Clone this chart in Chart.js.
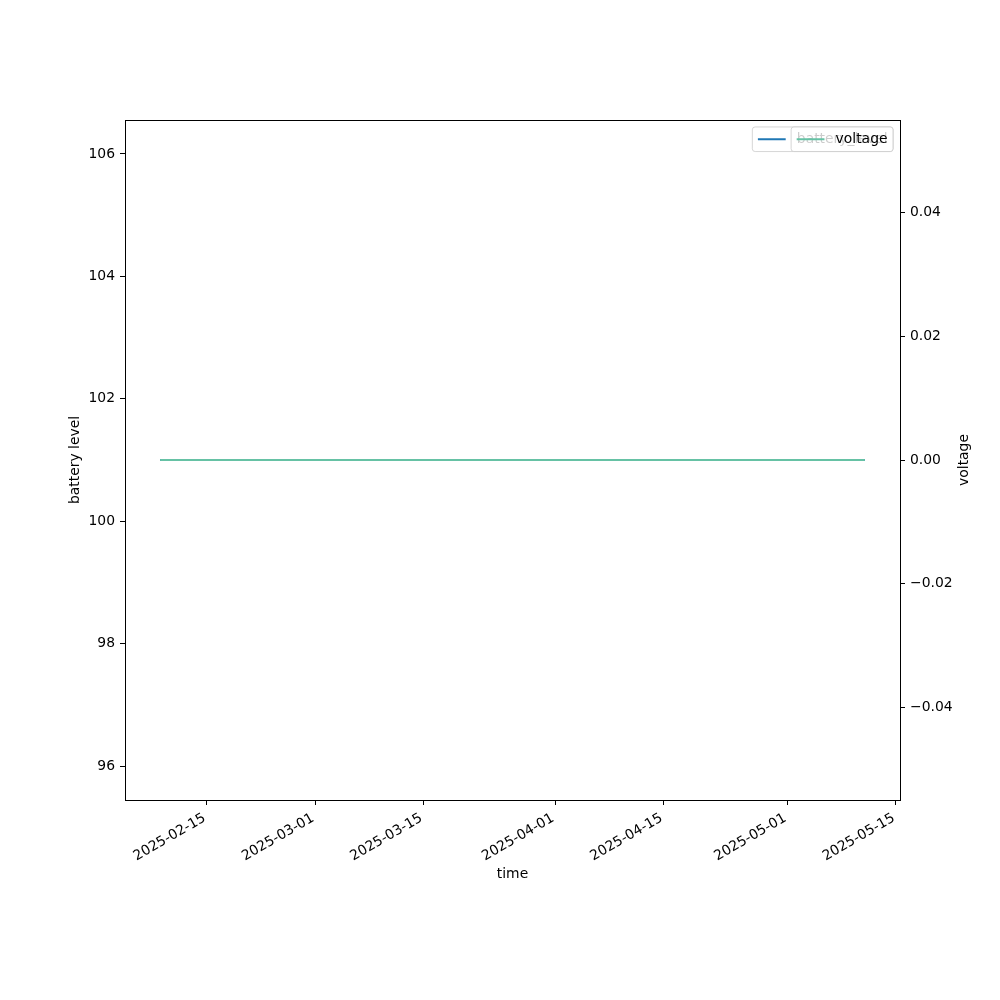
<!DOCTYPE html>
<html>
<head>
<meta charset="utf-8">
<script src="https://cdn.jsdelivr.net/npm/chart.js@4.4.1/dist/chart.umd.min.js"></script>
<style>
  html, body { margin: 0; padding: 0; background: #fff; }
  #wrap { width: 1000px; height: 1000px; }
</style>
</head>
<body>
<div id="wrap"><canvas id="c" width="1000" height="1000"></canvas></div>
<script>
// ---- data ----
const dates = ['2025-02-09','2025-02-16','2025-02-23','2025-03-02','2025-03-09','2025-03-16','2025-03-23',
               '2025-03-30','2025-04-06','2025-04-13','2025-04-20','2025-04-27','2025-05-04','2025-05-11'];
const batteryLevel = [101,101,101,101,101,101,101,101,101,101,101,101,101,101];
const voltage = [0,0,0,0,0,0,0,0,0,0,0,0,0,0];
const xTickLabels = ['2025-02-15','2025-03-01','2025-03-15','2025-04-01','2025-04-15','2025-05-01','2025-05-15'];
const yLeftTicks = [96,98,100,102,104,106];
const yRightTicks = [-0.04,-0.02,0,0.02,0.04];
const seriesNames = ['battery_level','voltage'];
const axisTitles = {x:'time', yLeft:'battery level', yRight:'voltage'};

// ---- helpers ----
const DAY = 86400000;
const toDay = s => Date.parse(s + 'T00:00:00Z') / DAY;
const xDays = dates.map(toDay);
const xTickDays = xTickLabels.map(toDay);
const dMin = Math.min(...xDays), dMax = Math.max(...xDays);
const xMargin = (dMax - dMin) * 0.05;

const FS = 13.9;
const FONT = {family: '"DejaVu Sans", sans-serif', size: FS};
const fontStr = FS + 'px "DejaVu Sans", sans-serif';

const frameAndLegend = {
  id: 'frameAndLegend',
  afterDatasetsDraw(chart) {
    const {ctx, chartArea: ca} = chart;
    ctx.save();
    ctx.strokeStyle = '#000';
    ctx.lineWidth = 1;
    ctx.strokeRect(Math.round(ca.left) + 0.5, Math.round(ca.top) + 0.5,
                   Math.round(ca.right - ca.left), Math.round(ca.bottom - ca.top));
    ctx.restore();
  },
  afterDraw(chart) {
    const {ctx, chartArea: ca} = chart;
    ctx.save();
    ctx.font = fontStr;
    const pad = 0.4 * FS, hl = 2 * FS, htp = 0.8 * FS, bap = 0.5 * FS;
    const h = 24.6;
    chart.data.datasets.forEach(ds => {
      const tw = ctx.measureText(ds.label).width;
      const w = pad + hl + htp + tw + pad;
      const right = ca.right - bap;
      const left = right - w;
      const top = ca.top + bap;
      ctx.beginPath();
      ctx.roundRect(left, top, w, h, 2.8);
      ctx.fillStyle = 'rgba(255,255,255,0.8)';
      ctx.fill();
      ctx.strokeStyle = 'rgba(204,204,204,0.8)';
      ctx.lineWidth = 1;
      ctx.stroke();
      const cy = top + h / 2;
      ctx.beginPath();
      ctx.moveTo(left + pad, cy);
      ctx.lineTo(left + pad + hl, cy);
      ctx.strokeStyle = ds.borderColor;
      ctx.lineWidth = ds.borderWidth;
      ctx.stroke();
      ctx.fillStyle = '#000';
      ctx.textAlign = 'left';
      ctx.textBaseline = 'middle';
      ctx.fillText(ds.label, left + pad + hl + htp, cy);
    });
    // right axis title (reads bottom-to-top like the reference)
    ctx.translate(964, (ca.top + ca.bottom) / 2);
    ctx.rotate(-Math.PI / 2);
    ctx.textAlign = 'center';
    ctx.textBaseline = 'middle';
    ctx.fillStyle = '#000';
    ctx.fillText(axisTitles.yRight, 0, 0);
    ctx.restore();
  }
};

const tickGrid = {display: true, drawOnChartArea: false, drawTicks: true, tickLength: 5, tickColor: '#000', tickWidth: 1};
const border = {display: true, color: '#000', width: 1};

new Chart(document.getElementById('c'), {
  type: 'line',
  data: {
    datasets: [
      {
        label: seriesNames[0],
        data: xDays.map((x, i) => ({x, y: batteryLevel[i]})),
        borderColor: '#1f77b4', borderWidth: 2, pointRadius: 0, yAxisID: 'y', order: 2, tension: 0
      },
      {
        label: seriesNames[1],
        data: xDays.map((x, i) => ({x, y: voltage[i]})),
        borderColor: '#66c2a5', borderWidth: 2, pointRadius: 0, yAxisID: 'y1', order: 1, tension: 0
      }
    ]
  },
  options: {
    responsive: false,
    devicePixelRatio: 1,
    animation: false,
    layout: {padding: {top: 120, left: 0, right: 0, bottom: 0}},
    plugins: {legend: {display: false}, tooltip: {enabled: false}},
    scales: {
      x: {
        type: 'linear', position: 'bottom',
        min: dMin - xMargin, max: dMax + xMargin,
        afterBuildTicks: s => { s.ticks = xTickDays.map(v => ({value: v})); },
        ticks: {
          callback: v => { const i = xTickDays.indexOf(v); return i >= 0 ? xTickLabels[i] : ''; },
          font: FONT, color: '#000', minRotation: 30, maxRotation: 30, autoSkip: false,
          padding: 5, labelOffset: -2
        },
        grid: tickGrid, border,
        title: {display: true, text: axisTitles.x, font: FONT, color: '#000', padding: {top: 0, bottom: 117}},
        afterFit: s => { s.height = 200; }
      },
      y: {
        type: 'linear', position: 'left',
        min: 95.445, max: 106.555,
        afterBuildTicks: s => { s.ticks = yLeftTicks.map(v => ({value: v})); },
        ticks: {callback: v => String(v), font: FONT, color: '#000', padding: 5},
        grid: tickGrid, border,
        title: {display: true, text: axisTitles.yLeft, font: FONT, color: '#000', padding: {top: 67, bottom: 0}},
        afterFit: s => { s.width = 125; }
      },
      y1: {
        type: 'linear', position: 'right',
        min: -0.055, max: 0.055,
        afterBuildTicks: s => { s.ticks = yRightTicks.map(v => ({value: v})); },
        ticks: {callback: v => v.toFixed(2).replace('-', '\u2212'), font: FONT, color: '#000', padding: 5},
        grid: tickGrid, border,
        title: {display: false, text: axisTitles.yRight},
        afterFit: s => { s.width = 100; }
      }
    }
  },
  plugins: [frameAndLegend]
});
</script>
</body>
</html>
